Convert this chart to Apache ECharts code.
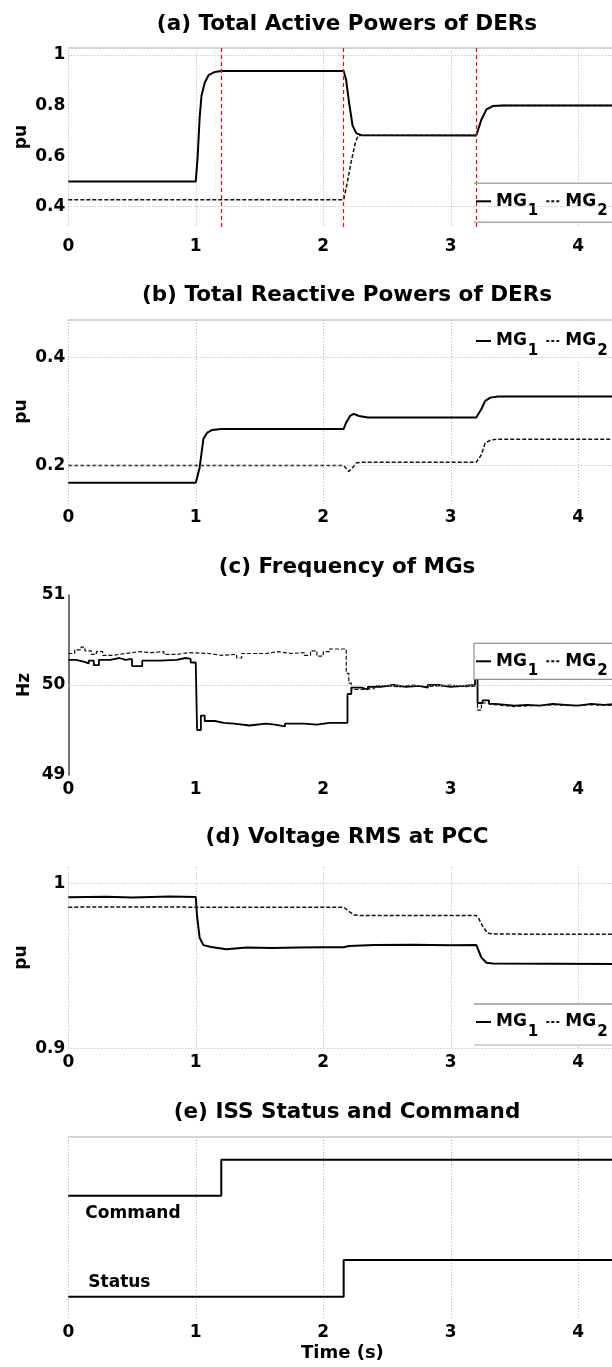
<!DOCTYPE html>
<html>
<head>
<meta charset="utf-8">
<script src="https://cdn.jsdelivr.net/npm/echarts@6/dist/echarts.min.js"></script>
<style>
  html, body { margin: 0; padding: 0; overflow: hidden; background: #fff; }
  #chart { width: 620px; height: 1367px; }
</style>
</head>
<body>
<div id="chart"></div>
<script>
// ---- time axis ----
const T_MAX = 4.3;
const X_TICKS = [0, 1, 2, 3, 4];

// ---- (a) total active powers of DERs [pu] ----
const P_MG1 = [[0,0.5],[1.0,0.5],[1.015,0.6],[1.03,0.75],[1.045,0.84],[1.07,0.89],[1.1,0.92],[1.15,0.933],[1.2,0.937],
  [2.16,0.937],[2.18,0.9],[2.2,0.82],[2.23,0.72],[2.26,0.69],[2.3,0.683],[3.2,0.682],[3.24,0.744],[3.28,0.785],[3.33,0.798],[3.4,0.8],[4.3,0.8]];
const P_MG2 = [[0,0.427],[2.16,0.427],[2.19,0.5],[2.22,0.58],[2.25,0.65],[2.27,0.678],[2.3,0.683],[3.2,0.682],
  [3.24,0.744],[3.28,0.785],[3.33,0.798],[3.4,0.8],[4.3,0.8]];
const EVENT_TIMES = [1.2, 2.16, 3.2];
const P_TICKS = [0.4, 0.6, 0.8, 1];

// ---- (b) total reactive powers of DERs [pu] ----
const Q_MG1 = [[0,0.168],[1.0,0.168],[1.03,0.196],[1.06,0.25],[1.09,0.261],[1.13,0.266],[1.2,0.268],[2.16,0.268],
  [2.18,0.28],[2.21,0.292],[2.24,0.296],[2.28,0.292],[2.35,0.289],[3.2,0.289],[3.24,0.305],[3.27,0.32],[3.31,0.326],[3.37,0.328],[4.3,0.328]];
const Q_MG2 = [[0,0.2],[2.16,0.2],[2.2,0.189],[2.23,0.196],[2.26,0.205],[2.3,0.206],[3.2,0.206],
  [3.24,0.22],[3.27,0.242],[3.31,0.247],[3.36,0.249],[4.3,0.249]];
const Q_TICKS = [0.2, 0.4];

// ---- (c) frequency of MGs [Hz] (sampled, held values) ----
const F_MG1 = [[0,50.28],[0.06,50.26],[0.12,50.24],[0.16,50.27],[0.2,50.22],[0.24,50.28],[0.33,50.3],[0.4,50.28],[0.45,50.29],
  [0.5,50.21],[0.58,50.27],[0.68,50.27],[0.72,50.28],[0.85,50.3],[0.92,50.29],[0.96,50.25],[1.0,50.22],[1.01,49.5],[1.04,49.66],
  [1.07,49.6],[1.15,49.58],[1.22,49.57],[1.3,49.55],[1.42,49.57],[1.55,49.56],[1.62,49.54],[1.7,49.57],[1.85,49.56],[1.95,49.58],
  [2.05,49.58],[2.19,49.9],[2.22,49.97],[2.3,49.95],[2.35,49.98],[2.45,50.0],[2.55,49.98],[2.65,49.99],[2.75,49.97],[2.82,50.0],
  [2.9,49.98],[3.0,49.99],[3.1,50.0],[3.19,50.08],[3.21,49.8],[3.25,49.83],[3.3,49.79],[3.35,49.77],[3.5,49.78],[3.6,49.77],
  [3.7,49.79],[3.8,49.78],[3.9,49.77],[4.0,49.79],[4.1,49.78],[4.2,49.79],[4.3,49.78]];
const F_MG2 = [[0,50.35],[0.05,50.39],[0.1,50.42],[0.13,50.38],[0.18,50.34],[0.22,50.37],[0.27,50.33],[0.35,50.35],[0.45,50.37],
  [0.55,50.36],[0.65,50.37],[0.75,50.34],[0.85,50.36],[0.95,50.35],[1.1,50.33],[1.2,50.34],[1.32,50.3],[1.36,50.35],[1.45,50.35],
  [1.55,50.37],[1.65,50.35],[1.75,50.36],[1.85,50.33],[1.9,50.38],[1.95,50.32],[2.0,50.37],[2.05,50.4],[2.18,50.13],[2.2,50.02],
  [2.22,49.95],[2.3,49.96],[2.4,49.99],[2.5,49.98],[2.6,50.0],[2.7,49.98],[2.8,49.99],[2.9,50.0],[3.0,49.98],[3.1,49.99],
  [3.21,49.72],[3.24,49.8],[3.28,49.78],[3.35,49.76],[3.5,49.77],[3.65,49.78],[3.8,49.77],[3.95,49.78],[4.1,49.77],[4.3,49.77]];
const F_TICKS = [49, 50, 51];

// ---- (d) voltage RMS at PCC [pu] ----
const V_MG1 = [[0,0.9915],[0.3,0.9918],[0.5,0.9914],[0.8,0.9919],[1.0,0.9917],[1.01,0.98],[1.03,0.967],[1.06,0.9625],[1.12,0.9614],
  [1.24,0.96],[1.4,0.961],[1.6,0.9608],[1.8,0.961],[2.0,0.9612],[2.16,0.9612],[2.2,0.962],[2.4,0.9625],[2.7,0.9627],[3.0,0.9624],
  [3.2,0.9626],[3.24,0.955],[3.28,0.9518],[3.33,0.9513],[3.8,0.9512],[4.3,0.951]];
const V_MG2 = [[0,0.9855],[0.5,0.9856],[1.0,0.9855],[1.5,0.9854],[2.16,0.9855],[2.2,0.983],[2.24,0.9808],[2.28,0.9805],[3.2,0.9805],
  [3.22,0.9785],[3.25,0.974],[3.29,0.9697],[3.34,0.9692],[4.3,0.969]];
const V_TICKS = [0.9, 1];

// ---- (e) ISS status and command (0 = off, 1 = on) ----
const COMMAND = [[0,0],[1.2,1],[4.3,1]];
const STATUS = [[0,0],[2.16,1],[4.3,1]];

// ---------------------------------------------------------------
const FONT = '"DejaVu Sans", sans-serif';
const BLACK = '#000';
const GRID_LINE = { color: '#b4b4b4', type: [1, 2], width: 1 };
const EDGE_LINE = { color: '#c8c8c8', type: 'solid', width: 1.5 };

const panels = [
  { title: '(a) Total Active Powers of DERs', top: 47.4, height: 179.5, min: 0.32, max: 1.03, ticks: P_TICKS, name: 'pu', xMargin: 11, vgrid: true },
  { title: '(b) Total Reactive Powers of DERs', top: 320, height: 183.3, min: 0.13, max: 0.47, ticks: Q_TICKS, name: 'pu', xMargin: 6, vgrid: true },
  { title: '(c) Frequency of MGs', top: 595, height: 180, min: 49, max: 51, ticks: F_TICKS, name: 'Hz', xMargin: 6, vgrid: false },
  { title: '(d) Voltage RMS at PCC', top: 866.7, height: 181.6, min: 0.9, max: 1.01, ticks: V_TICKS, name: 'pu', xMargin: 6, vgrid: true },
  { title: '(e) ISS Status and Command', top: 1137, height: 183, min: -3.45, max: 1.63, ticks: [], name: '', xMargin: 4, vgrid: true }
];
const titleTops = [8, 279, 551, 821, 1096];

const boldText = (size) => ({ fontFamily: FONT, fontWeight: 'bold', fontSize: size, color: BLACK });

const grid = panels.map(p => ({ left: 68.3, right: 3.5, top: p.top, height: p.height }));

const xAxis = panels.map((p, i) => ({
  type: 'value', gridIndex: i, min: 0, max: T_MAX, interval: 1,
  axisLine: { show: false }, axisTick: { show: false },
  axisLabel: { ...boldText(17), margin: p.xMargin, customValues: X_TICKS, formatter: v => X_TICKS.includes(v) ? String(v) : '' },
  splitLine: { show: p.vgrid, lineStyle: GRID_LINE },
  name: i === 4 ? 'Time (s)' : '', nameLocation: 'middle', nameGap: 24, nameMoveOverlap: false, nameTextStyle: boldText(18)
}));

const yAxis = panels.map((p, i) => ({
  type: 'value', gridIndex: i, min: p.min, max: p.max,
  axisLine: { show: i === 2, lineStyle: { color: '#444', width: 1.5 } },
  axisTick: { show: false }, splitLine: { show: false },
  axisLabel: { show: p.ticks.length > 0, ...boldText(17), margin: 3, customValues: p.ticks,
    formatter: v => String(+v.toFixed(3)) },
  name: p.name, nameLocation: 'middle', nameGap: i === 2 ? 35 : 38, nameMoveOverlap: false, nameTextStyle: boldText(17)
}));
// second value scale in panel (e) for the status trace
yAxis.push({ type: 'value', gridIndex: 4, min: -0.63, max: 4.35, show: false });

const title = panels.map((p, i) => ({
  text: p.title, left: 342, textAlign: 'center', top: titleTops[i], textStyle: boldText(21.5)
}));

const solid = { color: BLACK, width: 2, type: 'solid' };
const dashed = { color: '#111', width: 1.5, type: [4, 2] };

function guides(hLines, edgeTop, maxVal, extra) {
  const data = hLines.map(v => ({ yAxis: v, lineStyle: GRID_LINE }));
  if (edgeTop) data.push({ yAxis: maxVal, lineStyle: EDGE_LINE });
  return { silent: true, symbol: 'none', label: { show: false }, animation: false, data: data.concat(extra || []) };
}

function line(name, data, idx, style, opts) {
  return Object.assign({
    type: 'line', name, data, xAxisIndex: idx, yAxisIndex: idx,
    symbol: 'none', lineStyle: style, itemStyle: { color: style.color }, animation: false, z: 3
  }, opts || {});
}

const eventLines = EVENT_TIMES.map(t => ({ xAxis: t, lineStyle: { color: '#ff0000', type: [4, 3], width: 1.2 } }));

// invisible anchor point carrying a text label
function tag(text, point, yIdx, position, offset) {
  return {
    type: 'scatter', data: [point], xAxisIndex: 4, yAxisIndex: yIdx, symbolSize: 1,
    itemStyle: { color: 'rgba(0,0,0,0)', opacity: 1 }, silent: true, animation: false, z: 5,
    label: { show: true, formatter: text, position, align: 'left', offset, ...boldText(17) }
  };
}

const series = [
  line('MG1', P_MG1, 0, solid, { markLine: guides([0.4, 1], true, 1.03, eventLines) }),
  line('MG2', P_MG2, 0, dashed),
  line('MG1', Q_MG1, 1, solid, { markLine: guides([0.2, 0.4], true, 0.47) }),
  line('MG2', Q_MG2, 1, dashed),
  line('MG1', F_MG1, 2, { ...solid, width: 1.8 }, { step: 'end', markLine: guides([50], false) }),
  line('MG2', F_MG2, 2, { ...dashed, width: 1.2 }, { step: 'end' }),
  line('MG1', V_MG1, 3, solid, { markLine: guides([0.9, 1], false) }),
  line('MG2', V_MG2, 3, dashed),
  line('Command', COMMAND, 4, solid, { step: 'end', markLine: guides([], true, 1.63) }),
  { type: 'line', name: 'Status', data: STATUS, xAxisIndex: 4, yAxisIndex: 5, step: 'end', symbol: 'none',
    lineStyle: solid, itemStyle: { color: BLACK }, animation: false, z: 3 },
  tag('Command', COMMAND[0], 4, 'bottom', [17, 4]),
  tag('Status', STATUS[0], 5, 'top', [20, 0])
];

// legend text "MG" with a lowered index digit
const legendText = (lh) => ({
  ...boldText(17), lineHeight: lh,
  rich: { s: { fontFamily: FONT, fontWeight: 'bold', fontSize: 15, color: BLACK, lineHeight: lh, padding: [20, 0, 0, 1] } }
});
const LEGEND_ITEMS = [
  { name: 'MG1', icon: 'path://M0,0h15v2h-15z' },
  { name: 'MG2', icon: 'path://M0,0h3v2h-3zM5,0h3v2h-3zM10,0h3v2h-3z' }
];
const legendAt = (top, pad, lh, border) => ({
  data: LEGEND_ITEMS, left: 474, top, orient: 'horizontal',
  itemWidth: 15, itemHeight: 2, itemGap: 8, padding: pad,
  backgroundColor: '#fff', borderColor: border ? '#777' : 'transparent', borderWidth: border ? 1 : 0,
  textStyle: legendText(lh), selectedMode: false,
  formatter: n => n.slice(0, 2) + '{s|' + n.slice(2) + '}'
});
const legend = [
  legendAt(183.3, [0, 6, 3, 2], 36, false),
  legendAt(323, [0, 6, 2, 2], 36, false),
  legendAt(643.3, [0.5, 6, 0.5, 2], 30, true),
  legendAt(1004, [0, 6, 5, 2], 36, false)
];

// box rules above and below the (a) and (d) legends
const rule = (y, color) => ({ type: 'line', z: 100, shape: { x1: 474, y1: y, x2: 620, y2: y }, style: { stroke: color, lineWidth: 1.5 } });
const graphic = [rule(183.3, '#aaa'), rule(222.3, '#aaa'), rule(1004, '#999'), rule(1045, '#c4c4c4')];

const chart = echarts.init(document.getElementById('chart'), null, { renderer: 'canvas' });
chart.setOption({ animation: false, backgroundColor: '#fff', title, grid, xAxis, yAxis, series, legend, graphic });
</script>
</body>
</html>
